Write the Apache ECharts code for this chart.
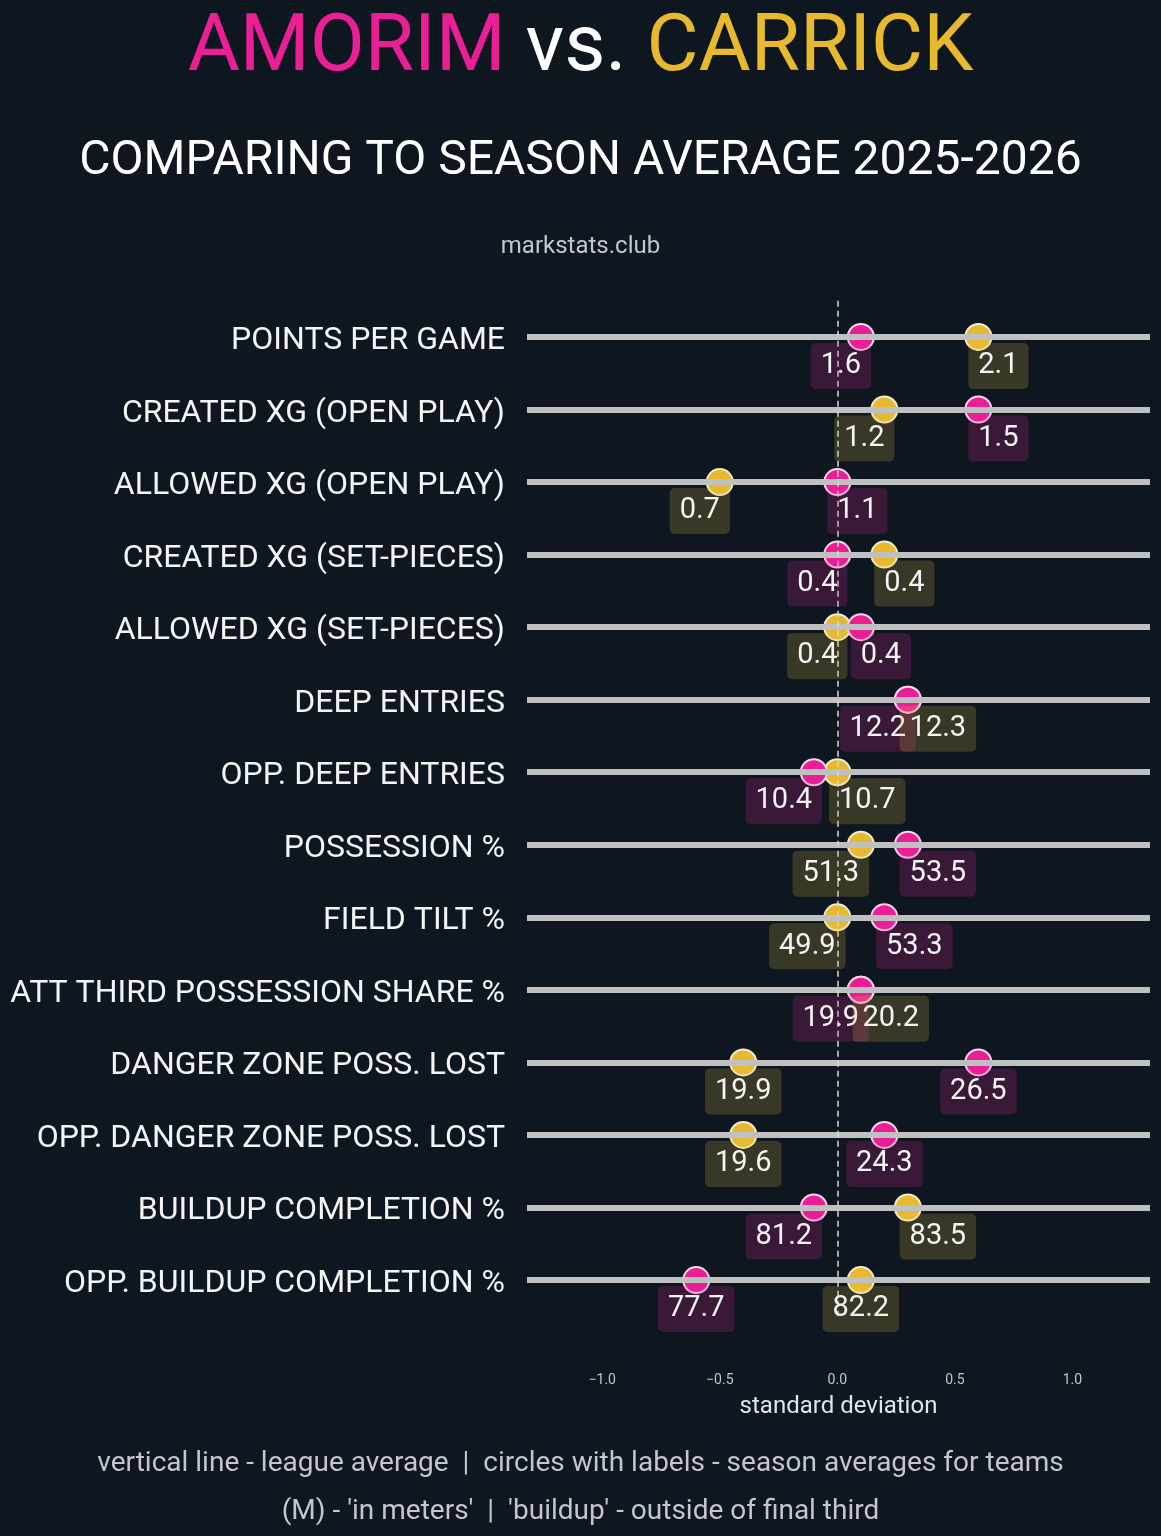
<!DOCTYPE html>
<html>
<head>
<meta charset="utf-8">
<title>AMORIM vs. CARRICK</title>
<script src="https://cdn.jsdelivr.net/npm/echarts@6/dist/echarts.min.js"></script>
<style>
  html, body { margin: 0; padding: 0; background: #0e1620; }
  #chart { width: 1161px; height: 1536px; }
</style>
</head>
<body>
<div id="chart"></div>
<script>
// metrics, top to bottom
var categories = [
  "POINTS PER GAME",
  "CREATED XG (OPEN PLAY)",
  "ALLOWED XG (OPEN PLAY)",
  "CREATED XG (SET-PIECES)",
  "ALLOWED XG (SET-PIECES)",
  "DEEP ENTRIES",
  "OPP. DEEP ENTRIES",
  "POSSESSION %",
  "FIELD TILT %",
  "ATT THIRD POSSESSION SHARE %",
  "DANGER ZONE POSS. LOST",
  "OPP. DANGER ZONE POSS. LOST",
  "BUILDUP COMPLETION %",
  "OPP. BUILDUP COMPLETION %"
];

// position in standard deviations from league average
var amorimSd  = [0.1, 0.6, 0.0, 0.0, 0.1, 0.3, -0.1, 0.3, 0.2, 0.1, 0.6, 0.2, -0.1, -0.6];
var carrickSd = [0.6, 0.2, -0.5, 0.2, 0.0, 0.3, 0.0, 0.1, 0.0, 0.1, -0.4, -0.4, 0.3, 0.1];

// raw season averages shown in the labels
var amorimValues  = ["1.6", "1.5", "1.1", "0.4", "0.4", "12.2", "10.4", "53.5", "53.3", "19.9", "26.5", "24.3", "81.2", "77.7"];
var carrickValues = ["2.1", "1.2", "0.7", "0.4", "0.4", "12.3", "10.7", "51.3", "49.9", "20.2", "19.9", "19.6", "83.5", "82.2"];

var xTickLabels = [-1.0, -0.5, 0.0, 0.5, 1.0];

var PINK = "#ea1f96";
var GOLD = "#e6b92f";
var FONT = "Roboto, 'Noto Sans', sans-serif";

// keep the two labels of a row apart: the left one goes left, the right one right,
// wider labels move further; labels far enough apart stay under their point
function labelShift(own, other, text, isAmorim) {
  var gap = Math.abs(own - other);
  if (gap >= 0.55) return 0;
  var step = 10 * (text.length - 1);
  if (gap < 0.001) return isAmorim ? -step : step;
  return own < other ? -step : step;
}

function pointData(sd) {
  return sd.map(function (v, i) { return [v, i]; });
}

function labelData(sd, otherSd, values, isAmorim) {
  return sd.map(function (v, i) {
    return {
      value: [v, i],
      name: values[i],
      label: { offset: [labelShift(v, otherSd[i], values[i], isAmorim), 29] }
    };
  });
}

function labelStyle(color) {
  return {
    show: true,
    position: "inside",
    formatter: "{b}",
    color: "#f4f4f4",
    fontFamily: FONT,
    fontSize: 29,
    lineHeight: 34,
    padding: [6, 10],
    borderRadius: 5,
    backgroundColor: color
  };
}

var myChart = echarts.init(document.getElementById("chart"));

var titleRich = function (color) {
  return { color: color, fontSize: 80, fontWeight: "normal", fontFamily: FONT, lineHeight: 90 };
};

var option = {
  backgroundColor: "#0e1620",
  animation: false,
  title: [{
    text: "{a|AMORIM }{b|vs. }{c|CARRICK}",
    left: "center",
    top: 0,
    textStyle: {
      rich: { a: titleRich(PINK), b: titleRich("#ffffff"), c: titleRich(GOLD) }
    }
  }, {
    text: "COMPARING TO SEASON AVERAGE 2025-2026",
    left: "center",
    top: 133,
    textStyle: { color: "#ffffff", fontSize: 48, fontWeight: "normal", fontFamily: FONT }
  }, {
    text: "markstats.club",
    left: "center",
    top: 230,
    textStyle: { color: "#c4c6c8", fontSize: 24, fontWeight: "normal", fontFamily: FONT }
  }, {
    text: "vertical line - league average  |  circles with labels - season averages for teams",
    left: "center",
    top: 1445,
    textStyle: { color: "#c4c6c8", fontSize: 28, fontWeight: "normal", fontFamily: FONT }
  }, {
    text: "(M) - 'in meters'  |  'buildup' - outside of final third",
    left: "center",
    top: 1493,
    textStyle: { color: "#c4c6c8", fontSize: 28, fontWeight: "normal", fontFamily: FONT }
  }],
  grid: { left: 527, right: 11, top: 300.7, bottom: 219.7 },
  xAxis: {
    type: "value",
    min: -1.32,
    max: 1.33,
    name: "standard deviation",
    nameLocation: "middle",
    nameGap: 79,
    nameTextStyle: { color: "#e4e4e4", fontSize: 24, fontFamily: FONT },
    axisLine: { show: false },
    axisTick: { show: false },
    splitLine: { show: false },
    axisLabel: {
      margin: 57,
      color: "#c4c6c8",
      fontSize: 14,
      fontFamily: FONT,
      showMinLabel: false,
      showMaxLabel: false,
      formatter: function (v) {
        for (var i = 0; i < xTickLabels.length; i++) {
          if (Math.abs(v - xTickLabels[i]) < 1e-6) {
            return (v < 0 ? "\u2212" : "") + Math.abs(v).toFixed(1);
          }
        }
        return "";
      }
    }
  },
  yAxis: {
    type: "category",
    inverse: true,
    data: categories,
    axisLine: { show: false },
    axisTick: { show: false },
    splitLine: { show: false },
    axisLabel: {
      margin: 22,
      formatter: function (v) { return "{t|" + v + "}"; },
      rich: {
        t: { color: "#f4f4f4", fontSize: 32, fontFamily: FONT, lineHeight: 40, padding: [8, 0, 0, 0] }
      }
    }
  },
  series: [{
    // row lines
    type: "scatter",
    data: [],
    z: 1,
    silent: true,
    markLine: {
      silent: true,
      symbol: "none",
      label: { show: false },
      lineStyle: { color: "#bfc0c2", width: 6, type: "solid" },
      data: categories.map(function (c, i) { return { yAxis: i }; })
    }
  }, {
    // league average
    type: "scatter",
    data: [],
    z: 2,
    silent: true,
    markLine: {
      silent: true,
      symbol: "none",
      label: { show: false },
      lineStyle: { color: "#d6d6d6", width: 1.5, type: [6, 4] },
      data: [{ xAxis: 0 }]
    }
  }, {
    name: "Carrick",
    type: "scatter",
    z: 3,
    symbolSize: 26,
    itemStyle: { color: GOLD, borderColor: "#f3ead0", borderWidth: 2, opacity: 1 },
    data: pointData(carrickSd)
  }, {
    name: "Amorim",
    type: "scatter",
    z: 4,
    symbolSize: 26,
    itemStyle: { color: PINK, borderColor: "#f7d8ea", borderWidth: 2, opacity: 1 },
    data: pointData(amorimSd)
  }, {
    type: "scatter",
    z: 5,
    symbolSize: 1,
    itemStyle: { color: "rgba(0,0,0,0)", opacity: 1 },
    label: labelStyle("rgba(232,35,155,0.2)"),
    data: labelData(amorimSd, carrickSd, amorimValues, true)
  }, {
    type: "scatter",
    z: 6,
    symbolSize: 1,
    itemStyle: { color: "rgba(0,0,0,0)", opacity: 1 },
    label: labelStyle("rgba(232,189,58,0.2)"),
    data: labelData(carrickSd, amorimSd, carrickValues, false)
  }]
};

myChart.setOption(option);
</script>
</body>
</html>
